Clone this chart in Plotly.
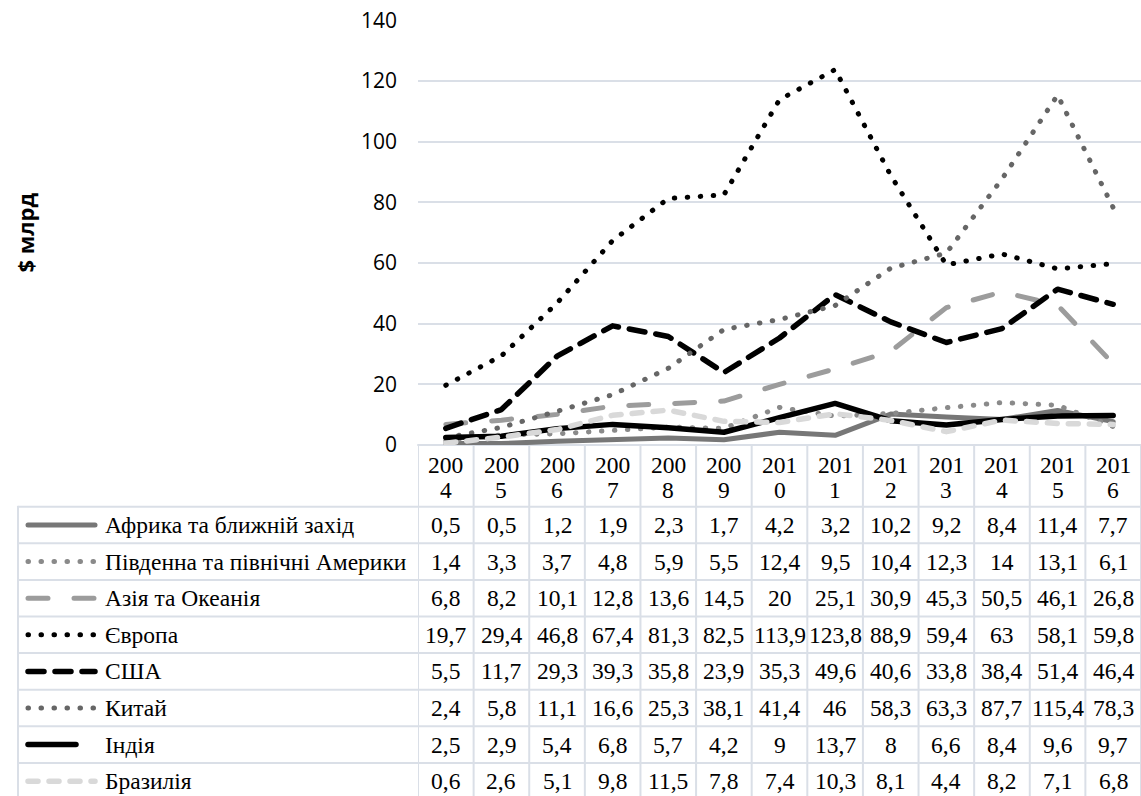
import plotly.graph_objects as go

# ---------------- data ----------------
years = [2004, 2005, 2006, 2007, 2008, 2009, 2010, 2011, 2012, 2013, 2014, 2015, 2016]
series_names = [
    "Африка та ближній захід",
    "Південна та північні Америки",
    "Азія та Океанія",
    "Європа",
    "США",
    "Китай",
    "Індія",
    "Бразилія",
]
africa = [0.5, 0.5, 1.2, 1.9, 2.3, 1.7, 4.2, 3.2, 10.2, 9.2, 8.4, 11.4, 7.7]
americas = [1.4, 3.3, 3.7, 4.8, 5.9, 5.5, 12.4, 9.5, 10.4, 12.3, 14, 13.1, 6.1]
asia = [6.8, 8.2, 10.1, 12.8, 13.6, 14.5, 20, 25.1, 30.9, 45.3, 50.5, 46.1, 26.8]
europe = [19.7, 29.4, 46.8, 67.4, 81.3, 82.5, 113.9, 123.8, 88.9, 59.4, 63, 58.1, 59.8]
usa = [5.5, 11.7, 29.3, 39.3, 35.8, 23.9, 35.3, 49.6, 40.6, 33.8, 38.4, 51.4, 46.4]
china = [2.4, 5.8, 11.1, 16.6, 25.3, 38.1, 41.4, 46, 58.3, 63.3, 87.7, 115.4, 78.3]
india = [2.5, 2.9, 5.4, 6.8, 5.7, 4.2, 9, 13.7, 8, 6.6, 8.4, 9.6, 9.7]
brazil = [0.6, 2.6, 5.1, 9.8, 11.5, 7.8, 7.4, 10.3, 8.1, 4.4, 8.2, 7.1, 6.8]
all_values = [africa, americas, asia, europe, usa, china, india, brazil]
y_ticks = [0, 20, 40, 60, 80, 100, 120, 140]
y_title = "$ млрд"

# ---------------- styles ----------------
styles = [
    dict(color="#777777", width=5, dash="solid"),
    dict(color="#8a8a8a", width=5, dash="0.5px,12.5px"),
    dict(color="#9c9c9c", width=5, dash="20px,26px"),
    dict(color="#000000", width=5, dash="0.5px,12.5px"),
    dict(color="#000000", width=5.5, dash="16px,11px"),
    dict(color="#666666", width=5, dash="0.5px,12.5px"),
    dict(color="#000000", width=5.5, dash="solid"),
    dict(color="#d9d9d9", width=5.5, dash="10px,11px"),
]

W, H = 1141, 796


def px(x):
    return x / W


def py(y):
    return 1 - y / H


PLOT_L, PLOT_T, PLOT_B = 418, 20.5, 445
TABLE_L = 18
HEADER_B = 506.7
ROW_H = 36.6
GRID = "#dadfe7"
SERIF = "Liberation Serif"
TSIZE = 23.5

cats = [str(y) for y in years]
fig = go.Figure()
for name, vals, st in zip(series_names, all_values, styles):
    fig.add_trace(go.Scatter(
        x=cats, y=vals, mode="lines", name=name,
        line=dict(color=st["color"], width=st["width"], dash=st["dash"]),
        showlegend=False, hoverinfo="skip",
    ))

shapes = []
annotations = []

# table horizontal borders
shapes.append(dict(type="line", xref="paper", yref="paper", x0=px(PLOT_L), x1=1,
                   y0=py(PLOT_B), y1=py(PLOT_B), line=dict(color=GRID, width=2), layer="below"))
for i in range(len(series_names) + 1):
    yy = HEADER_B + i * ROW_H
    shapes.append(dict(type="line", xref="paper", yref="paper", x0=px(TABLE_L), x1=1,
                       y0=py(yy), y1=py(yy), line=dict(color=GRID, width=2), layer="below"))
# vertical borders
shapes.append(dict(type="line", xref="paper", yref="paper", x0=px(TABLE_L), x1=px(TABLE_L),
                   y0=py(HEADER_B), y1=-0.02, line=dict(color=GRID, width=2), layer="below"))
for k in range(len(years) + 1):
    shapes.append(dict(type="line", xref="x", yref="paper", x0=k - 0.5, x1=k - 0.5,
                       y0=py(PLOT_B), y1=-0.02, line=dict(color=GRID, width=2), layer="below"))

# header years (wrapped as in the original)
for i, yr in enumerate(years):
    s = str(yr)
    annotations.append(dict(x=i, xref="x", y=py(465), yref="paper", text=s[:3], showarrow=False,
                            font=dict(family=SERIF, size=TSIZE, color="#000"), xanchor="center", yanchor="middle"))
    annotations.append(dict(x=i, xref="x", y=py(490), yref="paper", text=s[3:], showarrow=False,
                            font=dict(family=SERIF, size=TSIZE, color="#000"), xanchor="center", yanchor="middle"))

# rows
for r, (name, vals, st) in enumerate(zip(series_names, all_values, styles)):
    cy = HEADER_B + (r + 0.5) * ROW_H
    x_end = 78 if st["dash"] == "solid" and st["color"] == "#000000" else 97
    shapes.append(dict(type="line", xref="paper", yref="paper", x0=px(28), x1=px(x_end - 2),
                       y0=py(cy), y1=py(cy),
                       line=dict(color=st["color"], width=st["width"], dash=st["dash"])))
    annotations.append(dict(x=px(103), xref="paper", y=py(cy), yref="paper", text=name, showarrow=False,
                            font=dict(family=SERIF, size=TSIZE, color="#000"), xanchor="left", yanchor="middle"))
    for i, v in enumerate(vals):
        annotations.append(dict(x=i, xref="x", y=py(cy), yref="paper",
                                text=f"{v:g}".replace(".", ","), showarrow=False,
                                font=dict(family=SERIF, size=TSIZE, color="#000"),
                                xanchor="center", yanchor="middle"))

# y-axis title
annotations.append(dict(x=px(25), xref="paper", y=py(232.5), yref="paper", text=f"<b>{y_title}</b>",
                        textangle=-90, showarrow=False, font=dict(family="Open Sans", size=22, color="#000"),
                        xanchor="center", yanchor="middle"))

fig.update_layout(
    width=W, height=H,
    margin=dict(l=0, r=0, t=0, b=0, autoexpand=False),
    paper_bgcolor="white", plot_bgcolor="white",
    xaxis=dict(type="category", domain=[px(PLOT_L), 1], range=[-0.5, len(years) - 0.5],
               showticklabels=False, showgrid=False, zeroline=False, showline=False, ticks="",
               automargin=False),
    yaxis=dict(domain=[py(PLOT_B), py(PLOT_T)], range=[0, 140], tickvals=y_ticks,
               showgrid=True, gridcolor=GRID, gridwidth=2, zeroline=False, showline=False,
               tickfont=dict(family="Open Sans", size=21, color="#000"), ticklabelstandoff=20,
               automargin=False),
    shapes=shapes,
    annotations=annotations,
    showlegend=False,
)

post = """
document.body.style.margin = '0';
document.body.style.overflow = 'hidden';
var gd = document.getElementById('{plot_id}');
function fixCaps(){
  document.querySelectorAll('.scatterlayer .js-line, .shapelayer path').forEach(function(p){
    p.style.strokeLinecap = 'round'; p.style.strokeLinejoin = 'round';
  });
}
fixCaps();
if (gd && gd.on) { gd.on('plotly_afterplot', fixCaps); }
"""
fig.write_html("out.html", post_script=post, config={"displayModeBar": False})
